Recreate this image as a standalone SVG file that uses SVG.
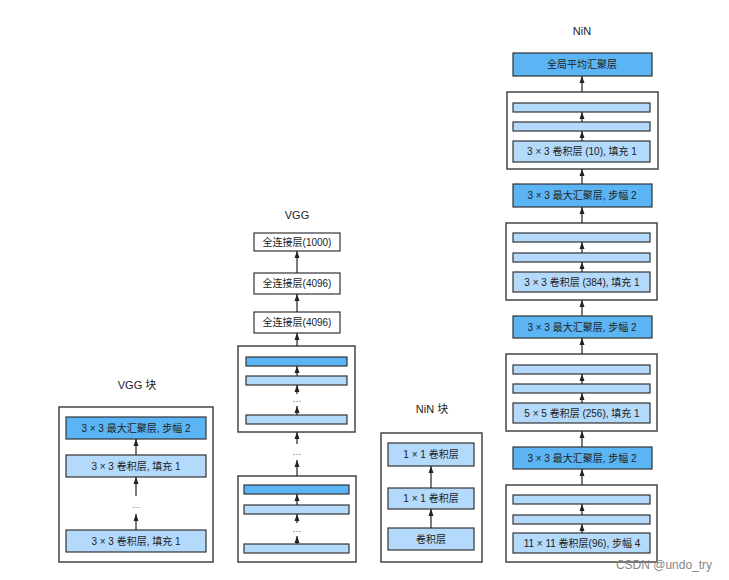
<svg xmlns="http://www.w3.org/2000/svg" width="729" height="580" viewBox="0 0 729 580">
<defs>
<marker id="ah" markerUnits="userSpaceOnUse" markerWidth="7" markerHeight="6" refX="7" refY="3" orient="auto">
<path d="M0,0.5 L7,3 L0,5.5 z" fill="#222"/>
</marker>
<style>
text{font-family:"Liberation Sans","Noto Sans CJK SC",sans-serif;fill:#222;text-anchor:middle;dominant-baseline:central}
.t{font-size:11px}
.l{font-size:10px}
.outer{fill:#fff;stroke:#444;stroke-width:1.5}
.dk{fill:#5BB5F5;stroke:#333;stroke-width:1.2}
.lt{fill:#B3D9FB;stroke:#333;stroke-width:1.2}
.wh{fill:#fff;stroke:#333;stroke-width:1.2}
.dots{font-size:9px;fill:#555}
#connectors line{stroke:#222;stroke-width:1.2;marker-end:url(#ah)}
</style>
</defs>
<rect width="729" height="580" fill="#fff"/>

<!-- VGG block -->
<g id="vggblock">
<text class="t" x="137" y="385">VGG 块</text>
<rect class="outer" x="59" y="407" width="154" height="155"/>
</g>
<g id="vb_pool"><rect class="dk" x="66" y="417" width="140" height="22"/><text class="l" x="136" y="428">3 × 3 最大汇聚层, 步幅 2</text></g>
<g id="vb_conv1"><rect class="lt" x="66" y="455" width="140" height="22"/><text class="l" x="136" y="466">3 × 3 卷积层, 填充 1</text></g>
<g id="vb_dots"><text class="dots" x="136" y="505">…</text></g>
<g id="vb_conv2"><rect class="lt" x="66" y="530" width="140" height="22"/><text class="l" x="136" y="541">3 × 3 卷积层, 填充 1</text></g>

<!-- VGG -->
<g id="vgg"><text class="t" x="297" y="215">VGG</text></g>
<g id="fc1000"><rect class="wh" x="254" y="233" width="86" height="18"/><text class="l" x="297" y="242">全连接层(1000)</text></g>
<g id="fc4096a"><rect class="wh" x="254" y="273" width="86" height="21"/><text class="l" x="297" y="283.5">全连接层(4096)</text></g>
<g id="fc4096b"><rect class="wh" x="254" y="312" width="86" height="21"/><text class="l" x="297" y="322.5">全连接层(4096)</text></g>
<g id="vgg_blk1">
<rect class="outer" x="238" y="346" width="117" height="86"/>
<rect class="dk" x="246" y="357" width="101" height="9"/>
<rect class="lt" x="246" y="376" width="101" height="9"/>
<text class="dots" x="297" y="399">…</text>
<rect class="lt" x="246" y="415" width="101" height="9"/>
</g>
<g id="vgg_dots"><text class="dots" x="297" y="452">…</text></g>
<g id="vgg_blk2">
<rect class="outer" x="238" y="476" width="118" height="86"/>
<rect class="dk" x="244" y="485" width="105" height="9"/>
<rect class="lt" x="244" y="505" width="105" height="9"/>
<text class="dots" x="297" y="529">…</text>
<rect class="lt" x="244" y="544" width="105" height="9"/>
</g>

<!-- NiN block -->
<g id="ninblock">
<text class="t" x="432" y="409">NiN 块</text>
<rect class="outer" x="381" y="433" width="101" height="129"/>
</g>
<g id="nb_c1"><rect class="lt" x="388" y="443" width="86" height="23"/><text class="l" x="431" y="454.5">1 × 1 卷积层</text></g>
<g id="nb_c2"><rect class="lt" x="388" y="488" width="86" height="21"/><text class="l" x="431" y="498.5">1 × 1 卷积层</text></g>
<g id="nb_c3"><rect class="lt" x="388" y="528" width="86" height="22"/><text class="l" x="431" y="539">卷积层</text></g>

<!-- NiN -->
<g id="nin"><text class="t" x="582" y="31">NiN</text></g>
<g id="gap"><rect class="dk" x="513" y="53" width="139" height="23"/><text class="l" x="582" y="64.5">全局平均汇聚层</text></g>
<g id="nin_blk4">
<rect class="outer" x="507" y="92" width="151" height="77"/>
<rect class="lt" x="513" y="103" width="137" height="9"/>
<rect class="lt" x="513" y="122" width="137" height="9"/>
<rect class="lt" x="513" y="141" width="137" height="21"/>
<text class="l" x="582" y="151.5">3 × 3 卷积层 (10), 填充 1</text>
</g>
<g id="pool3"><rect class="dk" x="513" y="184" width="139" height="23"/><text class="l" x="582" y="195.5">3 × 3 最大汇聚层, 步幅 2</text></g>
<g id="nin_blk3">
<rect class="outer" x="506" y="223" width="151" height="77"/>
<rect class="lt" x="513" y="233" width="137" height="9"/>
<rect class="lt" x="513" y="253" width="137" height="9"/>
<rect class="lt" x="513" y="272" width="137" height="20"/>
<text class="l" x="582" y="282">3 × 3 卷积层 (384), 填充 1</text>
</g>
<g id="pool2"><rect class="dk" x="513" y="316" width="139" height="22"/><text class="l" x="582" y="327">3 × 3 最大汇聚层, 步幅 2</text></g>
<g id="nin_blk2">
<rect class="outer" x="506" y="354" width="151" height="77"/>
<rect class="lt" x="513" y="365" width="137" height="9"/>
<rect class="lt" x="513" y="384" width="137" height="9"/>
<rect class="lt" x="513" y="403" width="137" height="20"/>
<text class="l" x="582" y="413">5 × 5 卷积层 (256), 填充 1</text>
</g>
<g id="pool1"><rect class="dk" x="513" y="447" width="139" height="22"/><text class="l" x="582" y="458">3 × 3 最大汇聚层, 步幅 2</text></g>
<g id="nin_blk1">
<rect class="outer" x="506" y="485" width="151" height="77"/>
<rect class="lt" x="513" y="495" width="137" height="9"/>
<rect class="lt" x="513" y="515" width="137" height="9"/>
<rect class="lt" x="513" y="533" width="137" height="20"/>
<text class="l" x="582" y="543">11 × 11 卷积层(96), 步幅 4</text>
</g>

<g id="connectors">
<!-- VGG block -->
<line x1="136" y1="530" x2="136" y2="514"/>
<line x1="136" y1="496" x2="136" y2="477"/>
<line x1="136" y1="455" x2="136" y2="439"/>
<!-- VGG -->
<line x1="297" y1="544" x2="297" y2="536"/>
<line x1="297" y1="523" x2="297" y2="514"/>
<line x1="297" y1="505" x2="297" y2="494"/>
<line x1="297" y1="476" x2="297" y2="460"/>
<line x1="297" y1="444" x2="297" y2="432"/>
<line x1="297" y1="415" x2="297" y2="406"/>
<line x1="297" y1="394" x2="297" y2="385"/>
<line x1="297" y1="376" x2="297" y2="366"/>
<line x1="297" y1="346" x2="297" y2="333"/>
<line x1="297" y1="312" x2="297" y2="294"/>
<line x1="297" y1="273" x2="297" y2="251"/>
<!-- NiN block -->
<line x1="431" y1="528" x2="431" y2="509"/>
<line x1="431" y1="488" x2="431" y2="466"/>
<!-- NiN -->
<line x1="582" y1="533" x2="582" y2="524"/>
<line x1="582" y1="515" x2="582" y2="504"/>
<line x1="582" y1="485" x2="582" y2="469"/>
<line x1="582" y1="447" x2="582" y2="431"/>
<line x1="582" y1="403" x2="582" y2="393"/>
<line x1="582" y1="384" x2="582" y2="374"/>
<line x1="582" y1="354" x2="582" y2="338"/>
<line x1="582" y1="316" x2="582" y2="300"/>
<line x1="582" y1="272" x2="582" y2="262"/>
<line x1="582" y1="253" x2="582" y2="242"/>
<line x1="582" y1="223" x2="582" y2="207"/>
<line x1="582" y1="184" x2="582" y2="169"/>
<line x1="582" y1="141" x2="582" y2="131"/>
<line x1="582" y1="122" x2="582" y2="112"/>
<line x1="582" y1="92" x2="582" y2="76"/>
</g>

<text x="664" y="565" style="font-size:12px;fill:#888">CSDN @undo_try</text>
</svg>
